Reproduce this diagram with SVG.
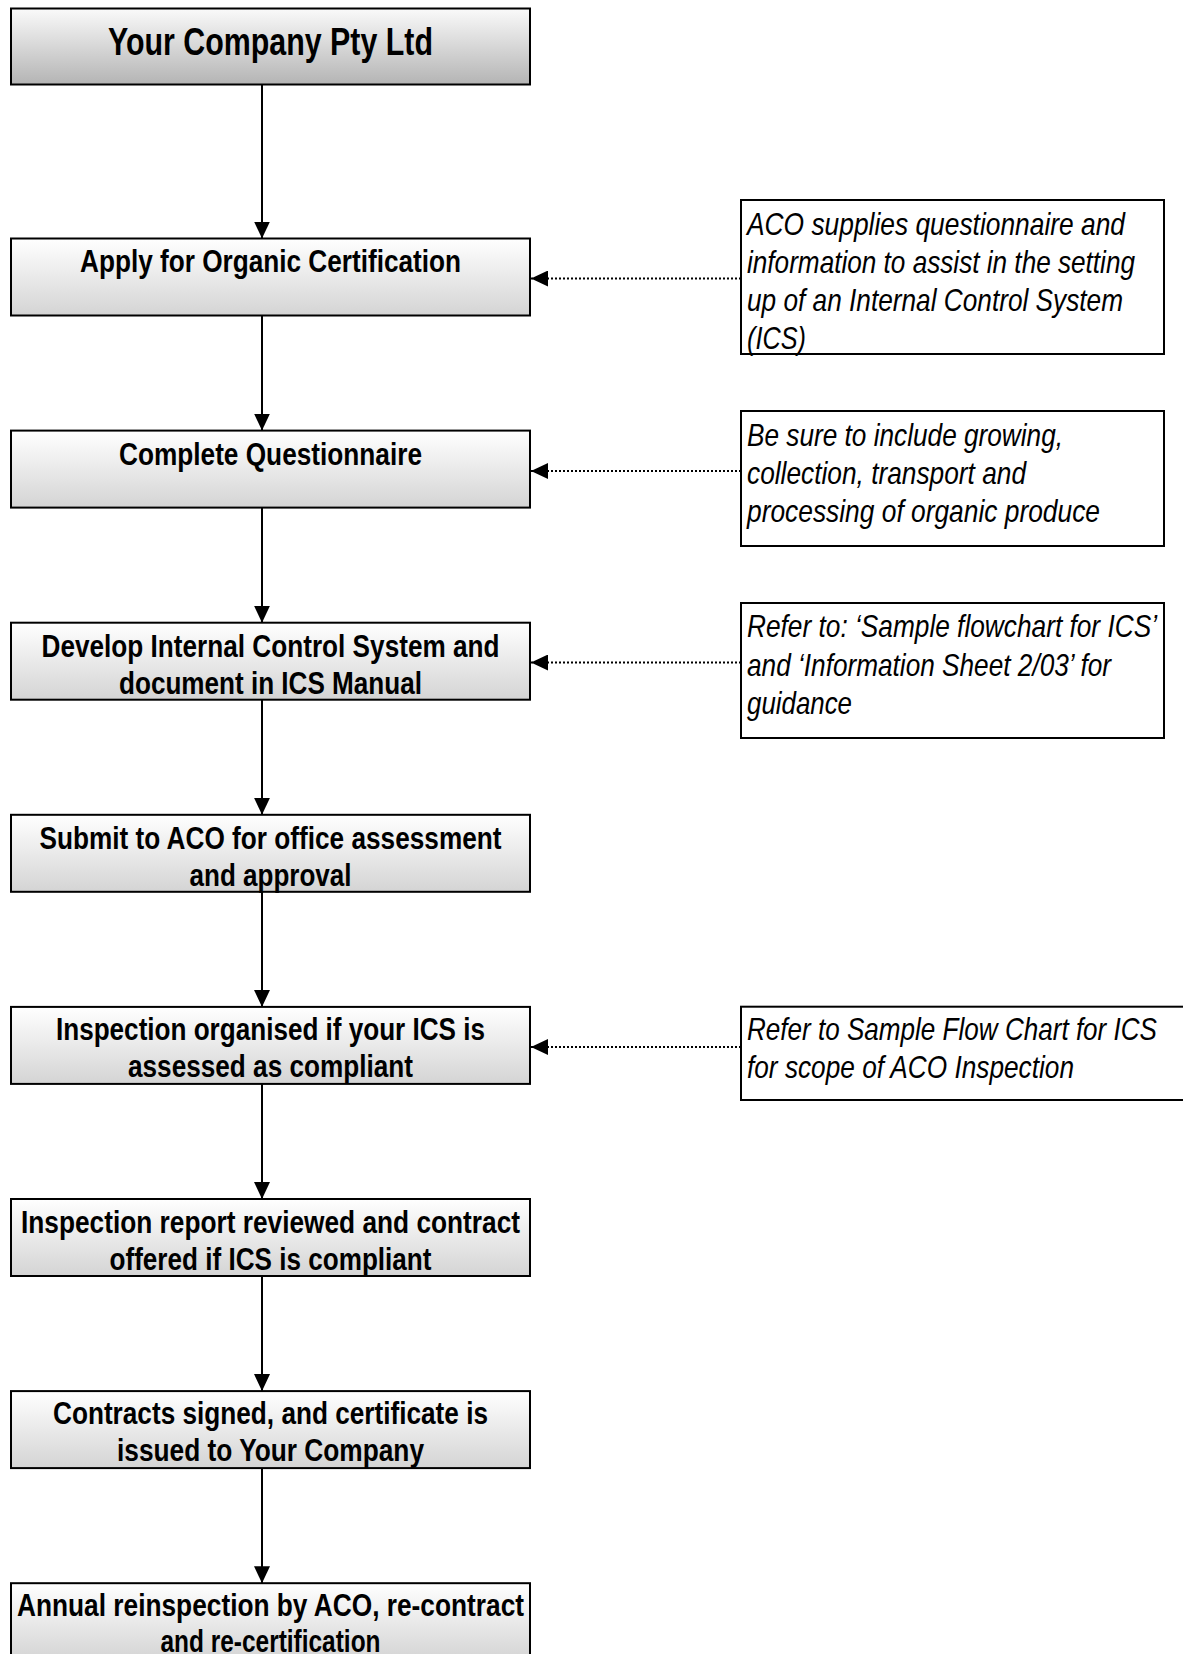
<svg xmlns="http://www.w3.org/2000/svg" width="1183" height="1654" viewBox="0 0 1183 1654">
<style>
.bx{stroke:#000;stroke-width:2;fill:url(#g)}
.top{stroke:#000;stroke-width:2;fill:url(#gt)}
.nt{stroke:#000;stroke-width:2;fill:#fff}
.t{font-family:"Liberation Sans Narrow","Liberation Sans",Arial,sans-serif;font-weight:bold;font-size:32px;fill:#000;text-anchor:middle}
.tt{font-family:"Liberation Sans Narrow","Liberation Sans",Arial,sans-serif;font-weight:bold;font-size:38px;fill:#000;text-anchor:middle}
.n{font-family:"Liberation Sans Narrow","Liberation Sans",Arial,sans-serif;font-style:italic;font-size:32px;fill:#000}
.c{stroke:#000;stroke-width:2;fill:none;marker-end:url(#ah)}
.d{stroke:#000;stroke-width:2;stroke-dasharray:2 2;fill:none;marker-end:url(#ah)}
</style>
<defs>
<linearGradient id="g" x1="0" y1="0" x2="0" y2="1">
<stop offset="0" stop-color="#ffffff"/>
<stop offset="1" stop-color="#d4d4d4"/>
</linearGradient>
<linearGradient id="gt" x1="0" y1="0" x2="0" y2="1">
<stop offset="0" stop-color="#fafafa"/>
<stop offset="1" stop-color="#b4b4b4"/>
</linearGradient>
<marker id="ah" markerUnits="userSpaceOnUse" markerWidth="17" markerHeight="16" refX="17" refY="8" orient="auto">
<path d="M0,0 L17,8 L0,16 Z" fill="#000"/>
</marker>
</defs>

<g id="connectors">
<line class="c" x1="262" y1="85" x2="262" y2="238.5"/>
<line class="c" x1="262" y1="315.5" x2="262" y2="430.6"/>
<line class="c" x1="262" y1="507.6" x2="262" y2="622.7"/>
<line class="c" x1="262" y1="699.7" x2="262" y2="814.8"/>
<line class="c" x1="262" y1="891.8" x2="262" y2="1006.9"/>
<line class="c" x1="262" y1="1083.9" x2="262" y2="1199"/>
<line class="c" x1="262" y1="1276" x2="262" y2="1391.1"/>
<line class="c" x1="262" y1="1468.1" x2="262" y2="1583.2"/>
<line class="d" x1="741" y1="278.5" x2="531" y2="278.5"/>
<line class="d" x1="741" y1="471" x2="531" y2="471"/>
<line class="d" x1="741" y1="662.5" x2="531" y2="662.5"/>
<line class="d" x1="741" y1="1047" x2="531" y2="1047"/>
</g>

<g id="n0">
<rect class="top" x="11" y="8.5" width="519" height="76"/>
<text class="tt" x="270.5" y="54.5" textLength="325" lengthAdjust="spacingAndGlyphs">Your Company Pty Ltd</text>
</g>
<g id="n1">
<rect class="bx" x="11" y="238.5" width="519" height="77"/>
<text class="t" x="270.5" y="272" textLength="381" lengthAdjust="spacingAndGlyphs">Apply for Organic Certification</text>
</g>
<g id="n2">
<rect class="bx" x="11" y="430.6" width="519" height="77"/>
<text class="t" x="270.5" y="464.5" textLength="303" lengthAdjust="spacingAndGlyphs">Complete Questionnaire</text>
</g>
<g id="n3">
<rect class="bx" x="11" y="622.7" width="519" height="77"/>
<text class="t" x="270.5" y="656.5" textLength="458" lengthAdjust="spacingAndGlyphs">Develop Internal Control System and</text>
<text class="t" x="270.5" y="693.5" textLength="303" lengthAdjust="spacingAndGlyphs">document in ICS Manual</text>
</g>
<g id="n4">
<rect class="bx" x="11" y="814.8" width="519" height="77"/>
<text class="t" x="270.5" y="848.5" textLength="462" lengthAdjust="spacingAndGlyphs">Submit to ACO for office assessment</text>
<text class="t" x="270.5" y="885.5" textLength="162" lengthAdjust="spacingAndGlyphs">and approval</text>
</g>
<g id="n5">
<rect class="bx" x="11" y="1006.9" width="519" height="77"/>
<text class="t" x="270.5" y="1040" textLength="429" lengthAdjust="spacingAndGlyphs">Inspection organised if your ICS is</text>
<text class="t" x="270.5" y="1077" textLength="285" lengthAdjust="spacingAndGlyphs">assessed as compliant</text>
</g>
<g id="n6">
<rect class="bx" x="11" y="1199" width="519" height="77"/>
<text class="t" x="270.5" y="1232.5" textLength="499" lengthAdjust="spacingAndGlyphs">Inspection report reviewed and contract</text>
<text class="t" x="270.5" y="1269.5" textLength="322" lengthAdjust="spacingAndGlyphs">offered if ICS is compliant</text>
</g>
<g id="n7">
<rect class="bx" x="11" y="1391.1" width="519" height="77"/>
<text class="t" x="270.5" y="1424" textLength="435" lengthAdjust="spacingAndGlyphs">Contracts signed, and certificate is</text>
<text class="t" x="270.5" y="1461" textLength="307" lengthAdjust="spacingAndGlyphs">issued to Your Company</text>
</g>
<g id="n8">
<rect class="bx" x="11" y="1583.2" width="519" height="77"/>
<text class="t" x="270.5" y="1616" textLength="507" lengthAdjust="spacingAndGlyphs">Annual reinspection by ACO, re-contract</text>
<text class="t" x="270.5" y="1652" textLength="220" lengthAdjust="spacingAndGlyphs">and re-certification</text>
</g>

<g id="note1">
<rect class="nt" x="741" y="200" width="423" height="154"/>
<text class="n" x="747" y="235" textLength="378" lengthAdjust="spacingAndGlyphs">ACO supplies questionnaire and</text>
<text class="n" x="747" y="273" textLength="388" lengthAdjust="spacingAndGlyphs">information to assist in the setting</text>
<text class="n" x="747" y="311" textLength="376" lengthAdjust="spacingAndGlyphs">up of an Internal Control System</text>
<text class="n" x="747" y="348.5" textLength="59" lengthAdjust="spacingAndGlyphs">(ICS)</text>
</g>
<g id="note2">
<rect class="nt" x="741" y="411" width="423" height="135"/>
<text class="n" x="747" y="446" textLength="316" lengthAdjust="spacingAndGlyphs">Be sure to include growing,</text>
<text class="n" x="747" y="484" textLength="279" lengthAdjust="spacingAndGlyphs">collection, transport and</text>
<text class="n" x="747" y="522" textLength="353" lengthAdjust="spacingAndGlyphs">processing of organic produce</text>
</g>
<g id="note3">
<rect class="nt" x="741" y="603" width="423" height="135"/>
<text class="n" x="747" y="637" textLength="410" lengthAdjust="spacingAndGlyphs">Refer to: ‘Sample flowchart for ICS’</text>
<text class="n" x="747" y="675.5" textLength="364" lengthAdjust="spacingAndGlyphs">and ‘Information Sheet 2/03’ for</text>
<text class="n" x="747" y="714" textLength="105" lengthAdjust="spacingAndGlyphs">guidance</text>
</g>
<g id="note4">
<rect class="nt" x="741" y="1006.7" width="444" height="93.3"/>
<text class="n" x="747" y="1039.5" textLength="410" lengthAdjust="spacingAndGlyphs">Refer to Sample Flow Chart for ICS</text>
<text class="n" x="747" y="1078" textLength="327" lengthAdjust="spacingAndGlyphs">for scope of ACO Inspection</text>
</g>
</svg>
